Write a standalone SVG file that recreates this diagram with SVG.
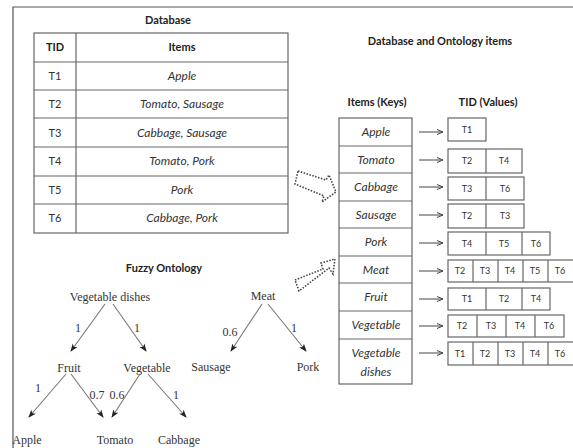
<svg xmlns="http://www.w3.org/2000/svg" width="573" height="448" viewBox="0 0 573 448">
<defs>
<marker id="ah" markerWidth="8" markerHeight="8" refX="7" refY="4" orient="auto" markerUnits="userSpaceOnUse">
<path d="M0,1 L8,4 L0,7 L2,4 Z" fill="#222"/>
</marker>
<marker id="oh" markerWidth="8" markerHeight="8" refX="7" refY="4" orient="auto" markerUnits="userSpaceOnUse">
<path d="M1,1.5 L7,4 L1,6.5" fill="none" stroke="#444" stroke-width="1"/>
</marker>
</defs>
<style>
.frame{fill:none;stroke:#555;stroke-width:1.2}
.cell{fill:#fff;stroke:#666;stroke-width:1.2}
.ln{stroke:#666;stroke-width:1.2}
.t{font-family:Lato,"Open Sans",sans-serif;font-size:11px;fill:#333;text-anchor:middle}
.i{font-style:italic;font-size:12px}
.h{font-weight:bold;fill:#222}
.s{font-size:9px}
.tr{font-family:"Liberation Serif","Times New Roman",serif;font-size:12px;fill:#333;text-anchor:middle}
.e{stroke:#777;stroke-width:1.1;fill:none;marker-end:url(#ah)}
.ar{stroke:#444;stroke-width:1;fill:none;marker-end:url(#oh)}
.dot{fill:none;stroke:#444;stroke-width:1.6;stroke-dasharray:1.5 1.5}
</style>
<rect width="573" height="448" fill="#fff"/>
<path class="frame" d="M13,448 V7 H573"/>

<g id="database">
<text class="t h" x="168" y="24" font-size="11.5">Database</text>
<rect class="cell" x="34" y="33" width="254" height="200"/>
<line class="ln" x1="76" y1="33" x2="76" y2="233"/>
<line class="ln" x1="34" y1="62" x2="288" y2="62"/>
<line class="ln" x1="34" y1="90" x2="288" y2="90"/>
<line class="ln" x1="34" y1="118" x2="288" y2="118"/>
<line class="ln" x1="34" y1="147" x2="288" y2="147"/>
<line class="ln" x1="34" y1="176" x2="288" y2="176"/>
<line class="ln" x1="34" y1="204" x2="288" y2="204"/>
<text class="t h" x="55" y="51">TID</text>
<text class="t h" x="182" y="51">Items</text>
<text class="t" x="55" y="80">T1</text><text class="t i" x="182" y="80">Apple</text>
<text class="t" x="55" y="108">T2</text><text class="t i" x="182" y="108">Tomato, Sausage</text>
<text class="t" x="55" y="137">T3</text><text class="t i" x="182" y="137">Cabbage, Sausage</text>
<text class="t" x="55" y="165">T4</text><text class="t i" x="182" y="165">Tomato, Pork</text>
<text class="t" x="55" y="194">T5</text><text class="t i" x="182" y="194">Pork</text>
<text class="t" x="55" y="222">T6</text><text class="t i" x="182" y="222">Cabbage, Pork</text>
</g>

<g id="index">
<text class="t h" x="440" y="45" font-size="11.5">Database and Ontology items</text>
<text class="t h" x="377" y="106">Items (Keys)</text>
<text class="t h" x="488" y="106">TID (Values)</text>
<rect class="cell" x="339" y="118" width="73" height="266"/>
<line class="ln" x1="339" y1="146" x2="412" y2="146"/>
<line class="ln" x1="339" y1="173" x2="412" y2="173"/>
<line class="ln" x1="339" y1="201" x2="412" y2="201"/>
<line class="ln" x1="339" y1="228" x2="412" y2="228"/>
<line class="ln" x1="339" y1="256" x2="412" y2="256"/>
<line class="ln" x1="339" y1="283" x2="412" y2="283"/>
<line class="ln" x1="339" y1="311" x2="412" y2="311"/>
<line class="ln" x1="339" y1="339" x2="412" y2="339"/>
<text class="t i" x="376" y="136">Apple</text>
<text class="t i" x="376" y="164">Tomato</text>
<text class="t i" x="376" y="191">Cabbage</text>
<text class="t i" x="376" y="219">Sausage</text>
<text class="t i" x="376" y="246">Pork</text>
<text class="t i" x="376" y="274">Meat</text>
<text class="t i" x="376" y="301">Fruit</text>
<text class="t i" x="376" y="329">Vegetable</text>
<text class="t i" x="376" y="357">Vegetable</text>
<text class="t i" x="376" y="376">dishes</text>
</g>

<g id="values" class="t s">
<rect class="cell" x="448" y="118" width="38" height="23"/>
<text x="467" y="133">T1</text>
<rect class="cell" x="448" y="149" width="74" height="24"/><line class="ln" x1="486" y1="149" x2="486" y2="173"/>
<text x="467" y="164">T2</text><text x="504" y="164">T4</text>
<rect class="cell" x="448" y="177" width="76" height="23"/><line class="ln" x1="486" y1="177" x2="486" y2="200"/>
<text x="467" y="192">T3</text><text x="505" y="192">T6</text>
<rect class="cell" x="448" y="204" width="76" height="24"/><line class="ln" x1="486" y1="204" x2="486" y2="228"/>
<text x="467" y="219">T2</text><text x="505" y="219">T3</text>
<rect class="cell" x="448" y="232" width="102" height="23"/><line class="ln" x1="486" y1="232" x2="486" y2="255"/><line class="ln" x1="522" y1="232" x2="522" y2="255"/>
<text x="467" y="247">T4</text><text x="504" y="247">T5</text><text x="536" y="247">T6</text>
<rect class="cell" x="448" y="260" width="126" height="22"/><line class="ln" x1="473" y1="260" x2="473" y2="282"/><line class="ln" x1="498" y1="260" x2="498" y2="282"/><line class="ln" x1="523" y1="260" x2="523" y2="282"/><line class="ln" x1="548" y1="260" x2="548" y2="282"/>
<text x="460" y="274">T2</text><text x="485" y="274">T3</text><text x="510" y="274">T4</text><text x="535" y="274">T5</text><text x="560" y="274">T6</text>
<rect class="cell" x="448" y="288" width="102" height="22"/><line class="ln" x1="486" y1="288" x2="486" y2="310"/><line class="ln" x1="522" y1="288" x2="522" y2="310"/>
<text x="467" y="302">T1</text><text x="504" y="302">T2</text><text x="536" y="302">T4</text>
<rect class="cell" x="448" y="315" width="116" height="22"/><line class="ln" x1="477" y1="315" x2="477" y2="337"/><line class="ln" x1="506" y1="315" x2="506" y2="337"/><line class="ln" x1="535" y1="315" x2="535" y2="337"/>
<text x="462" y="329">T2</text><text x="491" y="329">T3</text><text x="520" y="329">T4</text><text x="549" y="329">T6</text>
<rect class="cell" x="448" y="342" width="126" height="23"/><line class="ln" x1="473" y1="342" x2="473" y2="365"/><line class="ln" x1="498" y1="342" x2="498" y2="365"/><line class="ln" x1="523" y1="342" x2="523" y2="365"/><line class="ln" x1="548" y1="342" x2="548" y2="365"/>
<text x="460" y="357">T1</text><text x="485" y="357">T2</text><text x="510" y="357">T3</text><text x="535" y="357">T4</text><text x="560" y="357">T6</text>
</g>

<g id="ontology">
<text class="t h" x="164" y="272" font-size="11.5">Fuzzy Ontology</text>
<text class="tr" x="110" y="301">Vegetable dishes</text>
<text class="tr" x="69" y="372">Fruit</text>
<text class="tr" x="147" y="372">Vegetable</text>
<text class="tr" x="27" y="444">Apple</text>
<text class="tr" x="115" y="444">Tomato</text>
<text class="tr" x="179" y="444">Cabbage</text>
<text class="tr" x="263" y="300">Meat</text>
<text class="tr" x="211" y="371">Sausage</text>
<text class="tr" x="308" y="371">Pork</text>
<text class="tr" x="78" y="332">1</text>
<text class="tr" x="137" y="332">1</text>
<text class="tr" x="38" y="392">1</text>
<text class="tr" x="97" y="399">0.7</text>
<text class="tr" x="117" y="399">0.6</text>
<text class="tr" x="176" y="399">1</text>
<text class="tr" x="230" y="336">0.6</text>
<text class="tr" x="294" y="332">1</text>
</g>

<g id="connectors">
<line class="e" x1="105" y1="304" x2="71" y2="351"/>
<line class="e" x1="113" y1="304" x2="146" y2="351"/>
<line class="e" x1="66" y1="374" x2="29" y2="417"/>
<line class="e" x1="71" y1="374" x2="103" y2="417"/>
<line class="e" x1="140" y1="374" x2="112" y2="417"/>
<line class="e" x1="148" y1="374" x2="186" y2="417"/>
<line class="e" x1="262" y1="304" x2="231" y2="351"/>
<line class="e" x1="268" y1="304" x2="306" y2="351"/>
<line class="ar" x1="419" y1="132" x2="443" y2="132"/>
<line class="ar" x1="419" y1="160" x2="443" y2="160"/>
<line class="ar" x1="419" y1="187" x2="443" y2="187"/>
<line class="ar" x1="419" y1="215" x2="443" y2="215"/>
<line class="ar" x1="419" y1="243" x2="443" y2="243"/>
<line class="ar" x1="419" y1="271" x2="443" y2="271"/>
<line class="ar" x1="419" y1="299" x2="443" y2="299"/>
<line class="ar" x1="419" y1="326" x2="443" y2="326"/>
<line class="ar" x1="419" y1="353" x2="443" y2="353"/>
<path class="dot" d="M298,171 L326,180 L329,175 L336,192 L322,202 L324,196 L295,184 Z"/>
<path class="dot" d="M295,280 L323,269 L321,263 L335,259 L333,274 L329,268 L299,291 Z"/>
</g>
</svg>
